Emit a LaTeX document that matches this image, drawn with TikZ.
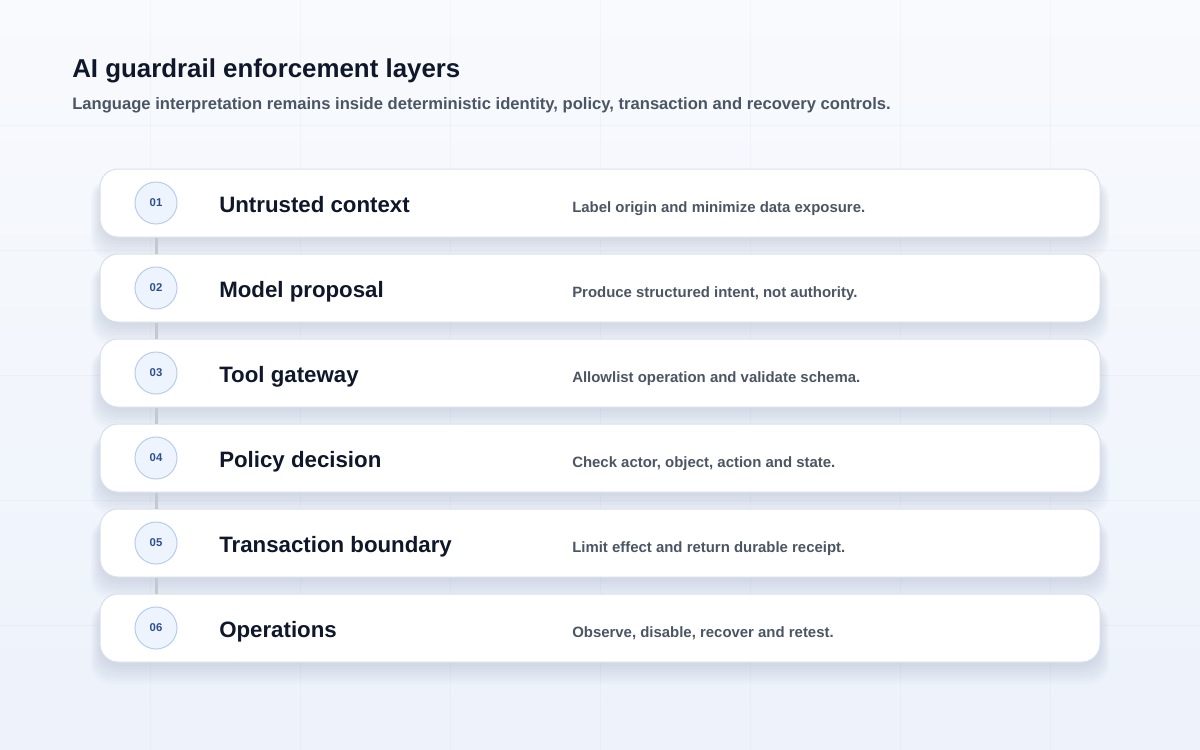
\documentclass[tikz,border=0pt]{standalone}
\usepackage{fontspec}
\setmainfont{Liberation Sans}
\usetikzlibrary{positioning}
\definecolor{bgtop}{HTML}{F8FAFD}
\definecolor{bgbot}{HTML}{EDF2FB}
\definecolor{gridc}{HTML}{5A6A8A}
\definecolor{cardline}{HTML}{D9DFEA}
\definecolor{shadowc}{HTML}{7A88A8}
\definecolor{inkc}{HTML}{0F172A}
\definecolor{subc}{HTML}{4B5563}
\definecolor{badgefill}{HTML}{EEF4FE}
\definecolor{badgeline}{HTML}{B8CDEE}
\definecolor{badgetext}{HTML}{2D4F8F}
\definecolor{linkc}{HTML}{C3C8D1}

\begin{document}
\begin{tikzpicture}[x=0.75pt,y=-0.75pt,
    card/.style={draw=cardline,line width=0.75pt,fill=white,rounded corners=13.5pt,
      minimum width=750pt,minimum height=51pt,inner sep=0pt},
    badge/.style={circle,draw=badgeline,line width=0.75pt,fill=badgefill,minimum size=31.5pt,
      inner sep=0pt,text=badgetext,font=\bfseries\fontsize{8.5}{9}\selectfont},
    layer/.style={anchor=base west,inner sep=0pt,text=inkc,font=\bfseries\fontsize{16.7}{20}\selectfont},
    note/.style={anchor=base west,inner sep=0pt,text=subc,font=\bfseries\fontsize{11.2}{13}\selectfont},
    link/.style={draw=linkc,line width=2.25pt}]
    \useasboundingbox (0,0) rectangle (1200,750);
    \shade[top color=bgtop,bottom color=bgbot] (0,0) rectangle (1200,750);
    \foreach \gx in {150,300,...,1050} \draw[gridc,opacity=0.04,line width=0.75pt] (\gx,0) -- (\gx,750);
    \foreach \gy in {125,250,...,625} \draw[gridc,opacity=0.04,line width=0.75pt] (0,\gy) -- (1200,\gy);

    % heading
    \node[anchor=base west,inner sep=0pt,text=inkc,font=\bfseries\fontsize{19.4}{23}\selectfont] (title) at (72,77) {AI guardrail enforcement layers};
    \node[anchor=base west,inner sep=0pt,text=subc,font=\bfseries\fontsize{12.45}{15}\selectfont] (subtitle) at (72,109) {Language interpretation remains inside deterministic identity, policy, transaction and recovery controls.};

    % soft shadows under the cards
    \foreach \cy in {203,288,373,458,543,628}
      \foreach \k in {0,...,6}
        \fill[shadowc,opacity=0.035,rounded corners=15pt] (100-1.5*\k,\cy-24) rectangle (1100+1.5*\k,\cy+38+3*\k);

    \node[card] (c1) at (600,203) {};
    \node[card] (c2) at (600,288) {};
    \node[card] (c3) at (600,373) {};
    \node[card] (c4) at (600,458) {};
    \node[card] (c5) at (600,543) {};
    \node[card] (c6) at (600,628) {};

    \node[badge] (b1) at (156,203) {01};
    \node[badge] (b2) at (156,288) {02};
    \node[badge] (b3) at (156,373) {03};
    \node[badge] (b4) at (156,458) {04};
    \node[badge] (b5) at (156,543) {05};
    \node[badge] (b6) at (156,628) {06};

    \node[layer] (l1) at (219,212) {Untrusted context};
    \node[layer] (l2) at (219,297) {Model proposal};
    \node[layer] (l3) at (219,382) {Tool gateway};
    \node[layer] (l4) at (219,467) {Policy decision};
    \node[layer] (l5) at (219,552) {Transaction boundary};
    \node[layer] (l6) at (219,637) {Operations};

    \node[note] (n1) at (572,212) {Label origin and minimize data exposure.};
    \node[note] (n2) at (572,297) {Produce structured intent, not authority.};
    \node[note] (n3) at (572,382) {Allowlist operation and validate schema.};
    \node[note] (n4) at (572,467) {Check actor, object, action and state.};
    \node[note] (n5) at (572,552) {Limit effect and return durable receipt.};
    \node[note] (n6) at (572,637) {Observe, disable, recover and retest.};

    \draw[link] (b1 |- c1.south) -- (b2 |- c2.north);
    \draw[link] (b2 |- c2.south) -- (b3 |- c3.north);
    \draw[link] (b3 |- c3.south) -- (b4 |- c4.north);
    \draw[link] (b4 |- c4.south) -- (b5 |- c5.north);
    \draw[link] (b5 |- c5.south) -- (b6 |- c6.north);
\end{tikzpicture}
\end{document}
